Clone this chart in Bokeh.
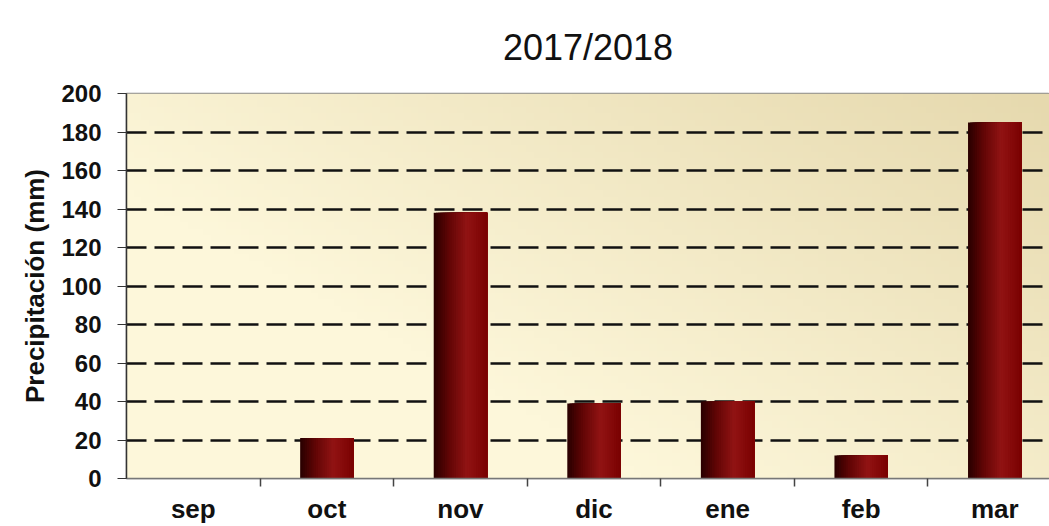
import numpy as np
from bokeh.plotting import figure
from bokeh.models import Range1d, FixedTicker, Title
from bokeh.embed import file_html
from bokeh.resources import INLINE

months = ["sep", "oct", "nov", "dic", "ene", "feb", "mar"]
precip = [0, 21, 138, 39, 40, 12, 185]
y_ticks = [0, 20, 40, 60, 80, 100, 120, 140, 160, 180, 200]
grid_ticks = [20, 40, 60, 80, 100, 120, 140, 160, 180]
title_text = "2017/2018"

xs = list(range(len(months)))
FONT = "Liberation Sans"

p = figure(width=1049, height=526, output_backend="svg", toolbar_location=None,
           x_range=Range1d(-0.5, 6.41), y_range=Range1d(0, 200),
           min_border_left=126, min_border_right=0, min_border_top=93, min_border_bottom=48)
p.title = Title(text=title_text, align="center", text_font=FONT, text_font_size="36px",
                text_font_style="normal", text_color="#111111", standoff=48,
                vertical_align="top")

# background gradient (decoration)
ny, nx = 60, 120
gy, gx = np.mgrid[0:ny, 0:nx]
u = gx / (nx - 1)
v = gy / (ny - 1)
t = np.clip((u * 0.8 + v * 0.6 - 0.45) / 0.95, 0, 1)
light = np.array([253, 247, 218])
dark = np.array([230, 217, 174])
img = np.zeros((ny, nx), dtype=np.uint32)
view = img.view(dtype=np.uint8).reshape((ny, nx, 4))
for c in range(3):
    view[:, :, c] = (light[c] + (dark[c] - light[c]) * t).astype(np.uint8)
view[:, :, 3] = 255
xr0, xr1 = p.x_range.start, p.x_range.end
bg = p.image_rgba(image=[img], x=xr0, y=0, dw=xr1 - xr0, dh=200)
bg.level = "image"

# bars with cylinder-like shading
bar_w = 0.4
stops = [(0.0, (40, 0, 0)), (0.3, (100, 6, 6)), (0.62, (146, 20, 20)), (1.0, (122, 2, 2))]
n = 24
sw = bar_w / n


def shade(f):
    for (f0, c0), (f1, c1) in zip(stops[:-1], stops[1:]):
        if f0 <= f <= f1:
            a = (f - f0) / (f1 - f0)
            return "#%02x%02x%02x" % tuple(int(c0[i] + (c1[i] - c0[i]) * a) for i in range(3))
    return "#7a0202"


for k in range(n):
    p.quad(left=[x - bar_w / 2 + k * sw for x in xs], right=[x + bar_w / 2 for x in xs],
           top=precip, bottom=0, fill_color=shade((k + 0.5) / n), line_color=None)

# grid
p.xgrid.visible = False
p.ygrid.ticker = FixedTicker(ticks=grid_ticks)
p.ygrid.grid_line_color = "#111111"
p.ygrid.grid_line_width = 2.7
p.ygrid.grid_line_dash = "20 8"
p.ygrid.level = "underlay"

p.outline_line_color = "#8a8a8a"
p.outline_line_width = 1.5

# y axis
p.yaxis.ticker = FixedTicker(ticks=y_ticks)
p.yaxis.axis_label = "Precipitación (mm)"
p.yaxis.axis_label_text_font = FONT
p.yaxis.axis_label_text_font_size = "26px"
p.yaxis.axis_label_text_font_style = "bold"
p.yaxis.axis_label_text_color = "#111111"
p.yaxis.axis_label_standoff = 8
p.yaxis.major_label_text_font = FONT
p.yaxis.major_label_text_font_size = "24px"
p.yaxis.major_label_text_font_style = "bold"
p.yaxis.major_label_text_color = "#111111"
p.yaxis.major_tick_out = 9
p.yaxis.major_tick_in = 0
p.yaxis.minor_tick_line_color = None
p.yaxis.major_label_standoff = 16
p.yaxis.axis_line_color = "#333333"
p.yaxis.axis_line_width = 1.5
p.yaxis.major_tick_line_color = "#333333"

# x axis
p.xaxis.ticker = FixedTicker(ticks=xs, minor_ticks=[x + 0.5 for x in xs[:-1]])
p.xaxis.major_label_overrides = {x: m for x, m in zip(xs, months)}
p.xaxis.major_label_text_font = FONT
p.xaxis.major_label_text_font_size = "26px"
p.xaxis.major_label_text_font_style = "bold"
p.xaxis.major_label_text_color = "#111111"
p.xaxis.major_tick_line_color = None
p.xaxis.major_tick_out = 0
p.xaxis.major_label_standoff = 7
p.xaxis.minor_tick_out = 8
p.xaxis.minor_tick_in = 0
p.xaxis.minor_tick_line_color = "#444444"
p.xaxis.minor_tick_line_width = 1.5
p.xaxis.axis_line_color = "#777777"
p.xaxis.axis_line_width = 1.5

open("out.html", "w").write(file_html(p, INLINE))
